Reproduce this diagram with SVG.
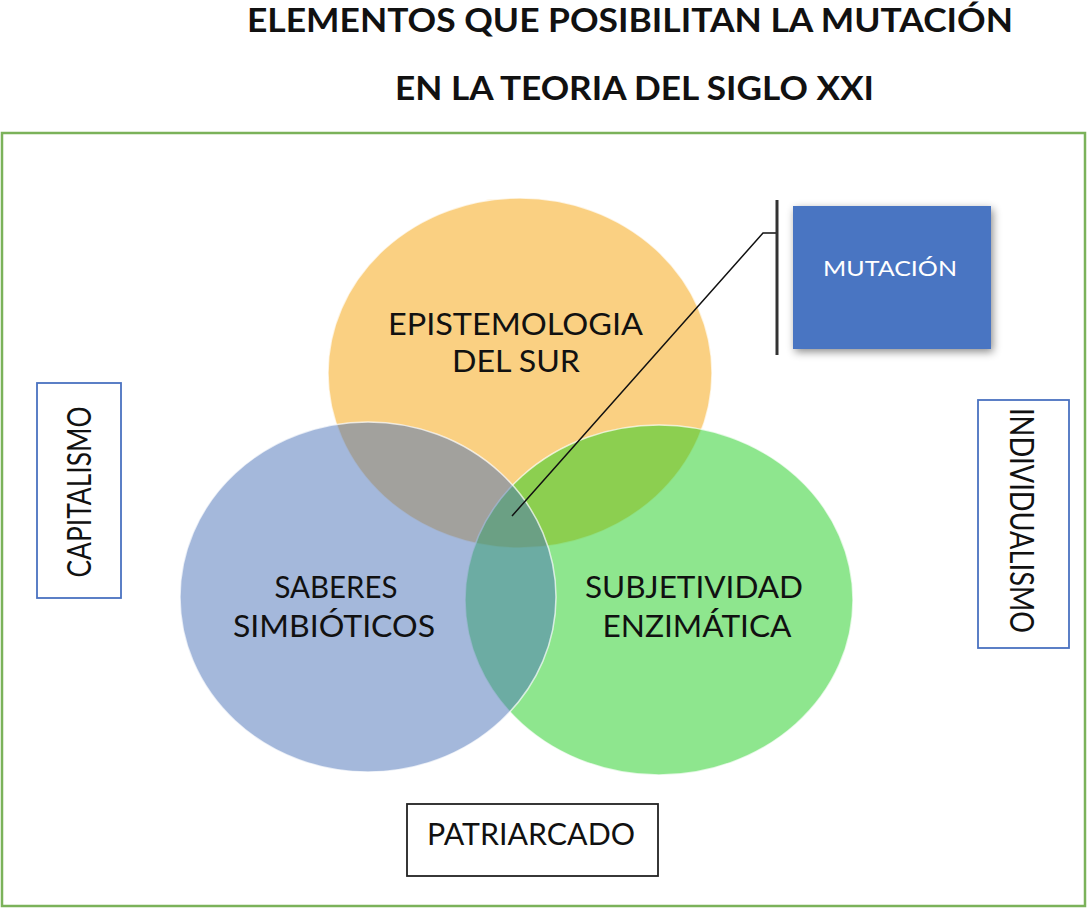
<svg xmlns="http://www.w3.org/2000/svg" width="1087" height="908" viewBox="0 0 1087 908">
<defs>
<filter id="shadow" x="-20%" y="-20%" width="140%" height="140%">
<feDropShadow dx="2" dy="3" stdDeviation="4" flood-color="#000" flood-opacity="0.45"/>
</filter>
</defs>
<style>
.title{font-family:"Lato","Liberation Sans",sans-serif;font-weight:bold;font-size:32px;fill:#111;text-anchor:middle}
.lbl{font-family:"Lato","Liberation Sans",sans-serif;font-size:30px;fill:#111;text-anchor:middle}
.side{font-family:"Lato","Liberation Sans",sans-serif;font-size:32px;fill:#111;text-anchor:middle}
.circ{fill-opacity:0.5;stroke:#fff;stroke-opacity:0.7;stroke-width:1.5}
.frame{fill:#fff;stroke-width:1.8}
</style>
<rect width="1087" height="908" fill="#fff"/>
<rect x="2" y="133" width="1083" height="773" fill="none" stroke="#7BB25A" stroke-width="2.5"/>
<g id="title">
<text class="title" x="630" y="32" textLength="766" lengthAdjust="spacingAndGlyphs">ELEMENTOS QUE POSIBILITAN LA MUTACIÓN</text>
<text class="title" x="634.5" y="100" textLength="479" lengthAdjust="spacingAndGlyphs">EN LA TEORIA DEL SIGLO XXI</text>
</g>
<g id="epistemologia">
<ellipse class="circ" cx="520" cy="373" rx="192" ry="175" fill="#F5A105"/>
</g>
<g id="subjetividad">
<ellipse class="circ" cx="659" cy="600" rx="194" ry="175" fill="#1ECD1E"/>
</g>
<g id="saberes">
<ellipse class="circ" cx="368" cy="597" rx="188" ry="175" fill="#4A72B8"/>
</g>
<g id="labels">
<text class="lbl" x="515.5" y="335" textLength="255" lengthAdjust="spacingAndGlyphs">EPISTEMOLOGIA</text>
<text class="lbl" x="516" y="372" textLength="128" lengthAdjust="spacingAndGlyphs">DEL SUR</text>
<text class="lbl" x="336" y="598" textLength="123" lengthAdjust="spacingAndGlyphs">SABERES</text>
<text class="lbl" x="334" y="637" textLength="202" lengthAdjust="spacingAndGlyphs">SIMBIÓTICOS</text>
<text class="lbl" x="694" y="598" textLength="218" lengthAdjust="spacingAndGlyphs">SUBJETIVIDAD</text>
<text class="lbl" x="697" y="637" textLength="189" lengthAdjust="spacingAndGlyphs">ENZIMÁTICA</text>
</g>
<g id="connectors">
<polyline points="512,516 763,233 777,233" fill="none" stroke="#111" stroke-width="1.5"/>
<line x1="777" y1="200" x2="777" y2="355" stroke="#333" stroke-width="3"/>
</g>
<g id="mutacion">
<rect x="793" y="206" width="198" height="143" fill="#4A74C2" filter="url(#shadow)"/>
<text x="890" y="276" font-family="Lato, 'Liberation Sans', sans-serif" font-size="21" fill="#fff" text-anchor="middle" textLength="134" lengthAdjust="spacingAndGlyphs">MUTACIÓN</text>
</g>
<g id="capitalismo">
<rect class="frame" x="37" y="383" width="84" height="215" stroke="#4A72C0"/>
<text class="side" transform="translate(91,492) rotate(-90)" x="0" y="0" textLength="171" lengthAdjust="spacingAndGlyphs">CAPITALISMO</text>
</g>
<g id="individualismo">
<rect class="frame" x="978" y="400" width="91" height="248" stroke="#4A72C0"/>
<text class="side" transform="translate(1010,520.5) rotate(90)" x="0" y="0" textLength="225" lengthAdjust="spacingAndGlyphs">INDIVIDUALISMO</text>
</g>
<g id="patriarcado">
<rect class="frame" x="407" y="804" width="251" height="72" stroke="#222"/>
<text class="lbl" x="531" y="845" textLength="208" lengthAdjust="spacingAndGlyphs">PATRIARCADO</text>
</g>
</svg>
